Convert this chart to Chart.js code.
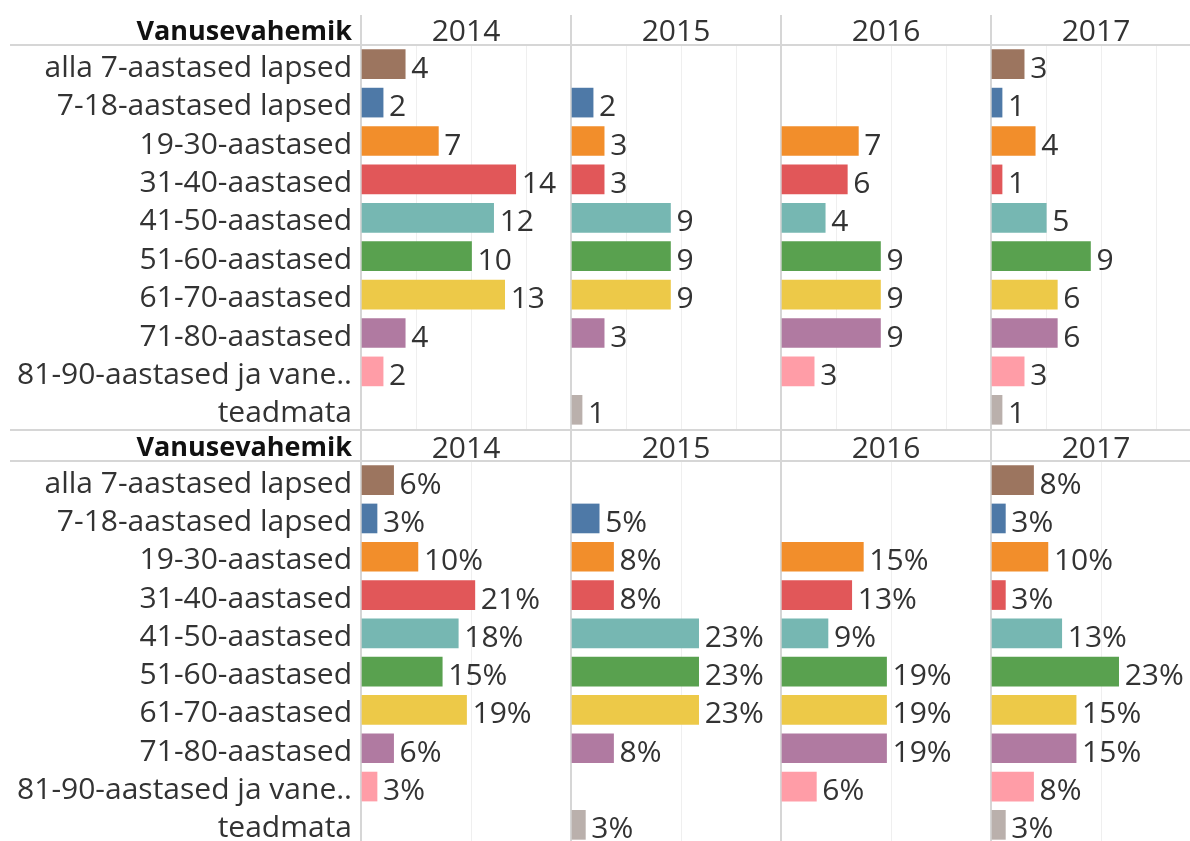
<!DOCTYPE html>
<html>
<head>
<meta charset="utf-8">
<script src="https://cdn.jsdelivr.net/npm/chart.js@4.4.1/dist/chart.umd.min.js"></script>
<style>
  html, body { margin: 0; padding: 0; background: #fff; }
  #wrap { position: relative; width: 1190px; height: 841px; overflow: hidden; }
  #c1 { position: absolute; left: 0; top: 0; }
  #c2 { position: absolute; left: 0; top: 429px; }
</style>
</head>
<body>
<div id="wrap">
  <canvas id="c1" width="1201" height="430"></canvas>
  <canvas id="c2" width="1201" height="416"></canvas>
</div>
<script>
// andmed
const categories = [
  'alla 7-aastased lapsed', '7-18-aastased lapsed', '19-30-aastased', '31-40-aastased',
  '41-50-aastased', '51-60-aastased', '61-70-aastased', '71-80-aastased',
  '81-90-aastased ja vane..', 'teadmata'
];
const years = ['2014', '2015', '2016', '2017'];

const counts2014 = [4, 2, 7, 14, 12, 10, 13, 4, 2, null];
const counts2015 = [null, 2, 3, 3, 9, 9, 9, 3, null, 1];
const counts2016 = [null, null, 7, 6, 4, 9, 9, 9, 3, null];
const counts2017 = [3, 1, 4, 1, 5, 9, 6, 6, 3, 1];

const share2014 = [5.9, 2.9, 10.3, 20.6, 17.6, 14.7, 19.1, 5.9, 2.9, null];
const share2015 = [null, 5.1, 7.7, 7.7, 23.1, 23.1, 23.1, 7.7, null, 2.6];
const share2016 = [null, null, 14.9, 12.8, 8.5, 19.1, 19.1, 19.1, 6.4, null];
const share2017 = [7.7, 2.6, 10.3, 2.6, 12.8, 23.1, 15.4, 15.4, 7.7, 2.6];

const colors = ['#9c755f', '#4e79a7', '#f28e2b', '#e15759', '#76b7b2',
                '#59a14f', '#edc948', '#b07aa1', '#ff9da7', '#bab0ac'];

const FONT = '"Open Sans", sans-serif';
const SEP = '#d6d6d6';
const GRID = '#efefef';
const TEXT = '#333333';

function line(ctx, x1, y1, x2, y2) {
  ctx.beginPath();
  ctx.moveTo(x1, y1);
  ctx.lineTo(x2, y2);
  ctx.stroke();
}

// päise jooned, eraldajad ja väärtused
const panelDecor = {
  id: 'panelDecor',
  afterDatasetsDraw(chart, args, opts) {
    const ctx = chart.ctx;
    ctx.save();
    ctx.font = '30px ' + FONT;
    ctx.fillStyle = TEXT;
    ctx.textAlign = 'left';
    ctx.textBaseline = 'middle';
    chart.data.datasets.forEach((ds, i) => {
      chart.getDatasetMeta(i).data.forEach((bar, j) => {
        const v = ds.data[j];
        if (v == null) return;
        ctx.fillText(opts.percent ? Math.round(v) + '%' : String(v), bar.x + 6, bar.y + 5);
      });
    });
    ctx.restore();
  },
  afterDraw(chart, args, opts) {
    const ctx = chart.ctx;
    const area = chart.chartArea;
    ctx.save();
    ctx.strokeStyle = SEP;
    ctx.lineWidth = 2;
    line(ctx, 10, area.top, chart.width, area.top);
    if (opts.topLine) line(ctx, 10, 1, chart.width, 1);
    years.forEach(yr => {
      const s = chart.scales['x' + yr];
      line(ctx, s.left, opts.sepTop, s.left, area.top);
    });
    ctx.font = 'bold 27px ' + FONT;
    ctx.fillStyle = '#111';
    ctx.textAlign = 'right';
    ctx.textBaseline = 'middle';
    ctx.fillText('Vanusevahemik', 352, area.top - 13);
    ctx.restore();
  }
};

function makeChart(id, series, maxVal, step, percent, padTop, titlePad, sepTop, topLine) {
  const scales = {
    y: {
      type: 'category',
      grid: { display: false, drawTicks: false },
      border: { display: false },
      ticks: { font: { family: FONT, size: 30 }, color: TEXT, padding: 9, labelOffset: 4, autoSkip: false },
      afterFit: s => { s.width = 361; s.paddingTop = 0; s.paddingBottom = 0; }
    }
  };
  // ülemised teljed paigutatakse vastupidises järjekorras
  years.slice().reverse().forEach(yr => {
    scales['x' + yr] = {
      type: 'linear',
      position: 'top',
      stack: 'years',
      stackWeight: 1,
      min: 0,
      max: maxVal,
      ticks: { display: false, stepSize: step },
      grid: {
        drawTicks: false,
        color: c => (c.tick && c.tick.value === 0) ? SEP : (c.tick && c.tick.value >= maxVal ? 'rgba(0,0,0,0)' : GRID),
        lineWidth: c => (c.tick && c.tick.value === 0) ? 2 : 1
      },
      border: { display: false },
      title: { display: true, text: yr, color: TEXT, font: { family: FONT, size: 30, lineHeight: 1 }, padding: titlePad }
    };
  });

  return new Chart(document.getElementById(id), {
    type: 'bar',
    data: {
      labels: categories,
      datasets: series.map((data, i) => ({
        data: data,
        backgroundColor: colors,
        borderWidth: 0,
        barThickness: 29,
        grouped: false,
        xAxisID: 'x' + years[i],
        yAxisID: 'y'
      }))
    },
    options: {
      indexAxis: 'y',
      responsive: false,
      devicePixelRatio: 1,
      animation: false,
      layout: { padding: { top: padTop, bottom: 1, left: 0, right: 0 } },
      scales: scales,
      plugins: {
        legend: { display: false },
        tooltip: { enabled: false },
        panelDecor: { percent: percent, sepTop: sepTop, topLine: topLine }
      }
    },
    plugins: [panelDecor]
  });
}

makeChart('c1', [counts2014, counts2015, counts2016, counts2017], 19, 5, false, 11, { top: 6, bottom: -2 }, 15, false);
makeChart('c2', [share2014, share2015, share2016, share2017], 38, 20, true, 0, { top: 5, bottom: -3 }, 1, true);
</script>
</body>
</html>
